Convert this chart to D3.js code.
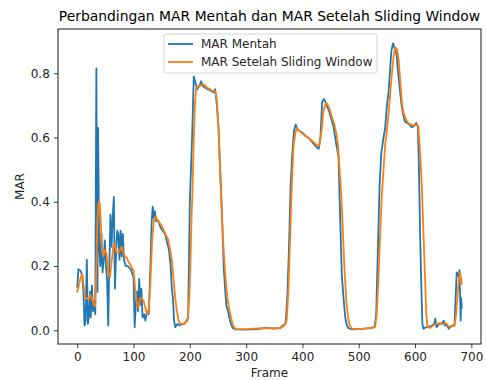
<!DOCTYPE html>
<html>
<head>
<meta charset="utf-8">
<script src="https://cdn.jsdelivr.net/npm/d3@7"></script>
<style>
    html, body { margin: 0; padding: 0; background: #fff; }
</style>
</head>
<body>
<script>
const fontFamily = "\"DejaVu Sans\", Verdana, sans-serif";

// raw MAR per frame
const rawFrames = [0, 2, 6, 9, 11, 13, 15, 17, 19, 21, 23, 24, 26, 28, 30, 32, 34, 35, 36, 37,
    39, 41, 43, 45, 47, 49, 51, 53, 55, 57, 59, 61, 63, 65, 67, 69, 71, 73, 75, 77,
    79, 81, 83, 86, 90, 95, 100, 102, 104, 106, 108, 110, 112, 114, 116, 119, 121, 124, 127, 130,
    132, 134, 136, 138, 140, 144, 148, 152, 156, 160, 163, 166, 168, 170, 172, 174, 178, 182, 186, 190,
    194, 197, 200, 204, 207, 210, 213, 217, 220, 223, 227, 232, 238, 242, 245, 248, 251, 254, 257, 260,
    263, 265, 268, 270, 273, 276, 280, 300, 320, 335, 350, 360, 365, 370, 373, 376, 379, 382, 385, 388,
    391, 395, 400, 405, 410, 415, 420, 425, 429, 432, 435, 438, 441, 444, 447, 450, 455, 460, 464, 467,
    470, 473, 476, 479, 482, 490, 500, 510, 520, 528, 531, 534, 537, 540, 544, 547, 550, 553, 556, 558,
    561, 564, 567, 570, 573, 576, 579, 582, 586, 590, 594, 598, 602, 605, 607, 609, 611, 613, 615, 620,
    626, 630, 634, 636, 638, 642, 645, 648, 651, 653, 656, 660, 664, 667, 670, 672, 674, 676, 678, 679,
    681, 682, 683];
const rawValues = [0.135, 0.19, 0.185, 0.17, 0.12, 0.015, 0.03, 0.22, 0.02, 0.05, 0.12, 0.04, 0.14, 0.06, 0.09, 0.05, 0.815, 0.3, 0.12, 0.63,
    0.26, 0.2, 0.3, 0.18, 0.22, 0.28, 0.2, 0.16, 0.015, 0.2, 0.36, 0.26, 0.35, 0.415, 0.13, 0.24, 0.31, 0.3, 0.22, 0.31,
    0.23, 0.3, 0.22, 0.2, 0.2, 0.19, 0.165, 0.01, 0.08, 0.12, 0.06, 0.16, 0.08, 0.13, 0.04, 0.05, 0.03, 0.06, 0.05, 0.2,
    0.33, 0.385, 0.35, 0.37, 0.34, 0.34, 0.32, 0.31, 0.3, 0.27, 0.25, 0.2, 0.13, 0.1, 0.03, 0.01, 0.02, 0.015, 0.02, 0.02,
    0.03, 0.04, 0.4, 0.6, 0.79, 0.77, 0.75, 0.76, 0.775, 0.76, 0.755, 0.75, 0.745, 0.74, 0.75, 0.7, 0.63, 0.5, 0.37, 0.2,
    0.12, 0.075, 0.06, 0.04, 0.02, 0.008, 0.003, 0.002, 0.004, 0.008, 0.005, 0.007, 0.015, 0.02, 0.1, 0.25, 0.45, 0.55, 0.62, 0.64,
    0.625, 0.62, 0.615, 0.605, 0.6, 0.59, 0.58, 0.57, 0.565, 0.6, 0.71, 0.72, 0.71, 0.695, 0.685, 0.665, 0.635, 0.58, 0.54, 0.35,
    0.17, 0.1, 0.04, 0.015, 0.006, 0.003, 0.004, 0.005, 0.007, 0.01, 0.05, 0.25, 0.45, 0.55, 0.6, 0.63, 0.7, 0.74, 0.82, 0.87,
    0.893, 0.875, 0.86, 0.8, 0.75, 0.7, 0.67, 0.65, 0.645, 0.64, 0.632, 0.635, 0.645, 0.635, 0.5, 0.3, 0.15, 0.02, 0.005, 0.01,
    0.012, 0.015, 0.02, 0.036, 0.01, 0.018, 0.022, 0.02, 0.03, 0.015, 0.018, 0.005, 0.012, 0.015, 0.015, 0.1, 0.18, 0.175, 0.165, 0.187,
    0.03, 0.1, 0.07];

// MAR after sliding window smoothing
const smoothFrames = [0, 3, 6, 9, 12, 14, 17, 20, 23, 26, 29, 32, 34, 36, 38, 40, 42, 44, 46, 49,
    52, 55, 58, 61, 64, 67, 70, 73, 76, 79, 82, 85, 88, 92, 96, 100, 103, 106, 109, 112,
    115, 118, 121, 124, 127, 130, 133, 136, 139, 142, 146, 150, 154, 158, 162, 165, 168, 171, 174, 177,
    180, 183, 188, 192, 196, 199, 201, 203, 205, 207, 209, 211, 214, 218, 222, 226, 230, 236, 240, 245,
    248, 251, 254, 257, 260, 263, 266, 269, 272, 275, 278, 282, 300, 330, 360, 368, 372, 375, 378, 381,
    384, 387, 390, 395, 400, 410, 420, 426, 430, 434, 437, 441, 444, 448, 452, 456, 460, 463, 466, 469,
    472, 475, 478, 481, 484, 488, 500, 515, 529, 532, 535, 538, 541, 544, 547, 550, 553, 556, 559, 562,
    565, 568, 571, 574, 577, 580, 584, 588, 593, 598, 603, 606, 609, 612, 615, 618, 620, 622, 627, 632,
    638, 645, 650, 655, 660, 665, 670, 673, 676, 678, 680, 683];
const smoothValues = [0.12, 0.14, 0.165, 0.175, 0.13, 0.1, 0.1, 0.095, 0.11, 0.1, 0.08, 0.075, 0.2, 0.35, 0.4, 0.395, 0.33, 0.25, 0.23, 0.25,
    0.24, 0.18, 0.165, 0.21, 0.26, 0.27, 0.24, 0.24, 0.25, 0.26, 0.24, 0.23, 0.225, 0.21, 0.2, 0.185, 0.13, 0.085, 0.07, 0.1,
    0.1, 0.09, 0.07, 0.05, 0.06, 0.15, 0.28, 0.34, 0.355, 0.345, 0.335, 0.325, 0.31, 0.295, 0.28, 0.25, 0.22, 0.16, 0.1, 0.06,
    0.03, 0.02, 0.02, 0.025, 0.03, 0.1, 0.2, 0.35, 0.45, 0.6, 0.7, 0.75, 0.76, 0.76, 0.765, 0.765, 0.755, 0.75, 0.745, 0.745,
    0.72, 0.62, 0.48, 0.35, 0.25, 0.17, 0.11, 0.075, 0.05, 0.025, 0.01, 0.004, 0.004, 0.007, 0.006, 0.015, 0.03, 0.12, 0.28, 0.45,
    0.57, 0.61, 0.63, 0.62, 0.612, 0.6, 0.585, 0.575, 0.575, 0.62, 0.68, 0.705, 0.705, 0.69, 0.665, 0.645, 0.615, 0.58, 0.5, 0.42,
    0.3, 0.18, 0.09, 0.04, 0.015, 0.005, 0.004, 0.006, 0.01, 0.05, 0.16, 0.3, 0.42, 0.5, 0.58, 0.62, 0.675, 0.74, 0.8, 0.855,
    0.88, 0.875, 0.84, 0.77, 0.7, 0.675, 0.655, 0.645, 0.64, 0.637, 0.64, 0.635, 0.55, 0.45, 0.3, 0.15, 0.05, 0.01, 0.008, 0.015,
    0.02, 0.022, 0.02, 0.022, 0.012, 0.012, 0.015, 0.05, 0.12, 0.16, 0.18, 0.145];

const xTicks = [0, 100, 200, 300, 400, 500, 600, 700];
const yTicks = [0.0, 0.2, 0.4, 0.6, 0.8];
const seriesNames = ["MAR Mentah", "MAR Setelah Sliding Window"];
const seriesColors = ["#1f77b4", "#ff7f0e"];

const width = 486;
const height = 380;
const margin = { top: 29, right: 5, bottom: 36, left: 58 };
const fontSize = 12;

function padded(lo, hi) {
    let pad = (hi - lo) * 0.05;
    return [lo - pad, hi + pad];
}

function toPoints(frames, values) {
    return frames.map((f, i) => ({ x: f, y: values[i] }));
}

function drawChart() {
    let svg = d3.select("body").append("svg")
        .attr("width", width)
        .attr("height", height)
        .style("font-family", fontFamily);

    let plotW = width - margin.left - margin.right;
    let plotH = height - margin.top - margin.bottom;

    let lastFrame = d3.max(rawFrames);
    let allValues = rawValues.concat(smoothValues);

    let x = d3.scaleLinear()
        .domain(padded(0, lastFrame))
        .range([margin.left, margin.left + plotW]);
    let y = d3.scaleLinear()
        .domain(padded(d3.min(allValues), d3.max(allValues)))
        .range([margin.top + plotH, margin.top]);

    svg.append("clipPath").attr("id", "plot-clip")
        .append("rect")
        .attr("x", margin.left).attr("y", margin.top)
        .attr("width", plotW).attr("height", plotH);

    let line = d3.line().x(d => x(d.x)).y(d => y(d.y));
    let series = [toPoints(rawFrames, rawValues), toPoints(smoothFrames, smoothValues)];

    svg.append("g")
        .attr("clip-path", "url(#plot-clip)")
        .selectAll("path.series")
        .data(series)
        .enter()
        .append("path")
        .classed("series", true)
        .attr("fill", "none")
        .attr("stroke", (d, i) => seriesColors[i])
        .attr("stroke-width", 1.8)
        .attr("stroke-linejoin", "round")
        .attr("stroke-linecap", "square")
        .attr("d", line);

    let xAxis = svg.append("g")
        .attr("transform", `translate(0,${margin.top + plotH})`)
        .call(d3.axisBottom(x).tickValues(xTicks).tickFormat(d3.format("d")).tickSizeOuter(0).tickSize(4.2).tickPadding(4));
    let yAxis = svg.append("g")
        .attr("transform", `translate(${margin.left},0)`)
        .call(d3.axisLeft(y).tickValues(yTicks).tickFormat(d3.format(".1f")).tickSizeOuter(0).tickSize(4.2).tickPadding(4));

    [xAxis, yAxis].forEach(a => {
        a.select(".domain").remove();
        a.selectAll("text")
            .attr("font-family", fontFamily)
            .attr("font-size", fontSize)
            .attr("fill", "#262626");
        a.selectAll("line").attr("stroke", "#262626").attr("stroke-width", 0.9);
    });

    svg.append("rect")
        .attr("x", margin.left).attr("y", margin.top)
        .attr("width", plotW).attr("height", plotH)
        .attr("fill", "none")
        .attr("stroke", "#000")
        .attr("stroke-width", 0.9);

    svg.append("text")
        .attr("x", margin.left + plotW / 2)
        .attr("y", 21)
        .attr("text-anchor", "middle")
        .attr("font-size", 13.9)
        .attr("fill", "#000")
        .text("Perbandingan MAR Mentah dan MAR Setelah Sliding Window");

    svg.append("text")
        .attr("x", margin.left + plotW / 2)
        .attr("y", 377)
        .attr("text-anchor", "middle")
        .attr("font-size", fontSize)
        .attr("fill", "#262626")
        .text("Frame");

    svg.append("text")
        .attr("transform", `translate(24,${margin.top + plotH / 2}) rotate(-90)`)
        .attr("text-anchor", "middle")
        .attr("font-size", fontSize)
        .attr("fill", "#262626")
        .text("MAR");

    drawLegend(svg);
}

function drawLegend(svg) {
    let legend = svg.append("g").attr("transform", "translate(164,34)");
    legend.append("rect")
        .attr("width", 213).attr("height", 39)
        .attr("rx", 2.5)
        .attr("fill", "#fff").attr("fill-opacity", 0.8)
        .attr("stroke", "#d0d0d0").attr("stroke-width", 0.9);

    let rows = legend.selectAll("g.row")
        .data(seriesNames)
        .enter()
        .append("g")
        .classed("row", true)
        .attr("transform", (d, i) => `translate(0,${10 + i * 18})`);
    rows.append("line")
        .attr("x1", 4).attr("x2", 29)
        .attr("stroke", (d, i) => seriesColors[i])
        .attr("stroke-width", 1.8);
    rows.append("text")
        .attr("x", 37)
        .attr("dy", "0.36em")
        .attr("font-size", fontSize)
        .attr("fill", "#262626")
        .text(d => d);
}

drawChart();
</script>
</body>
</html>
